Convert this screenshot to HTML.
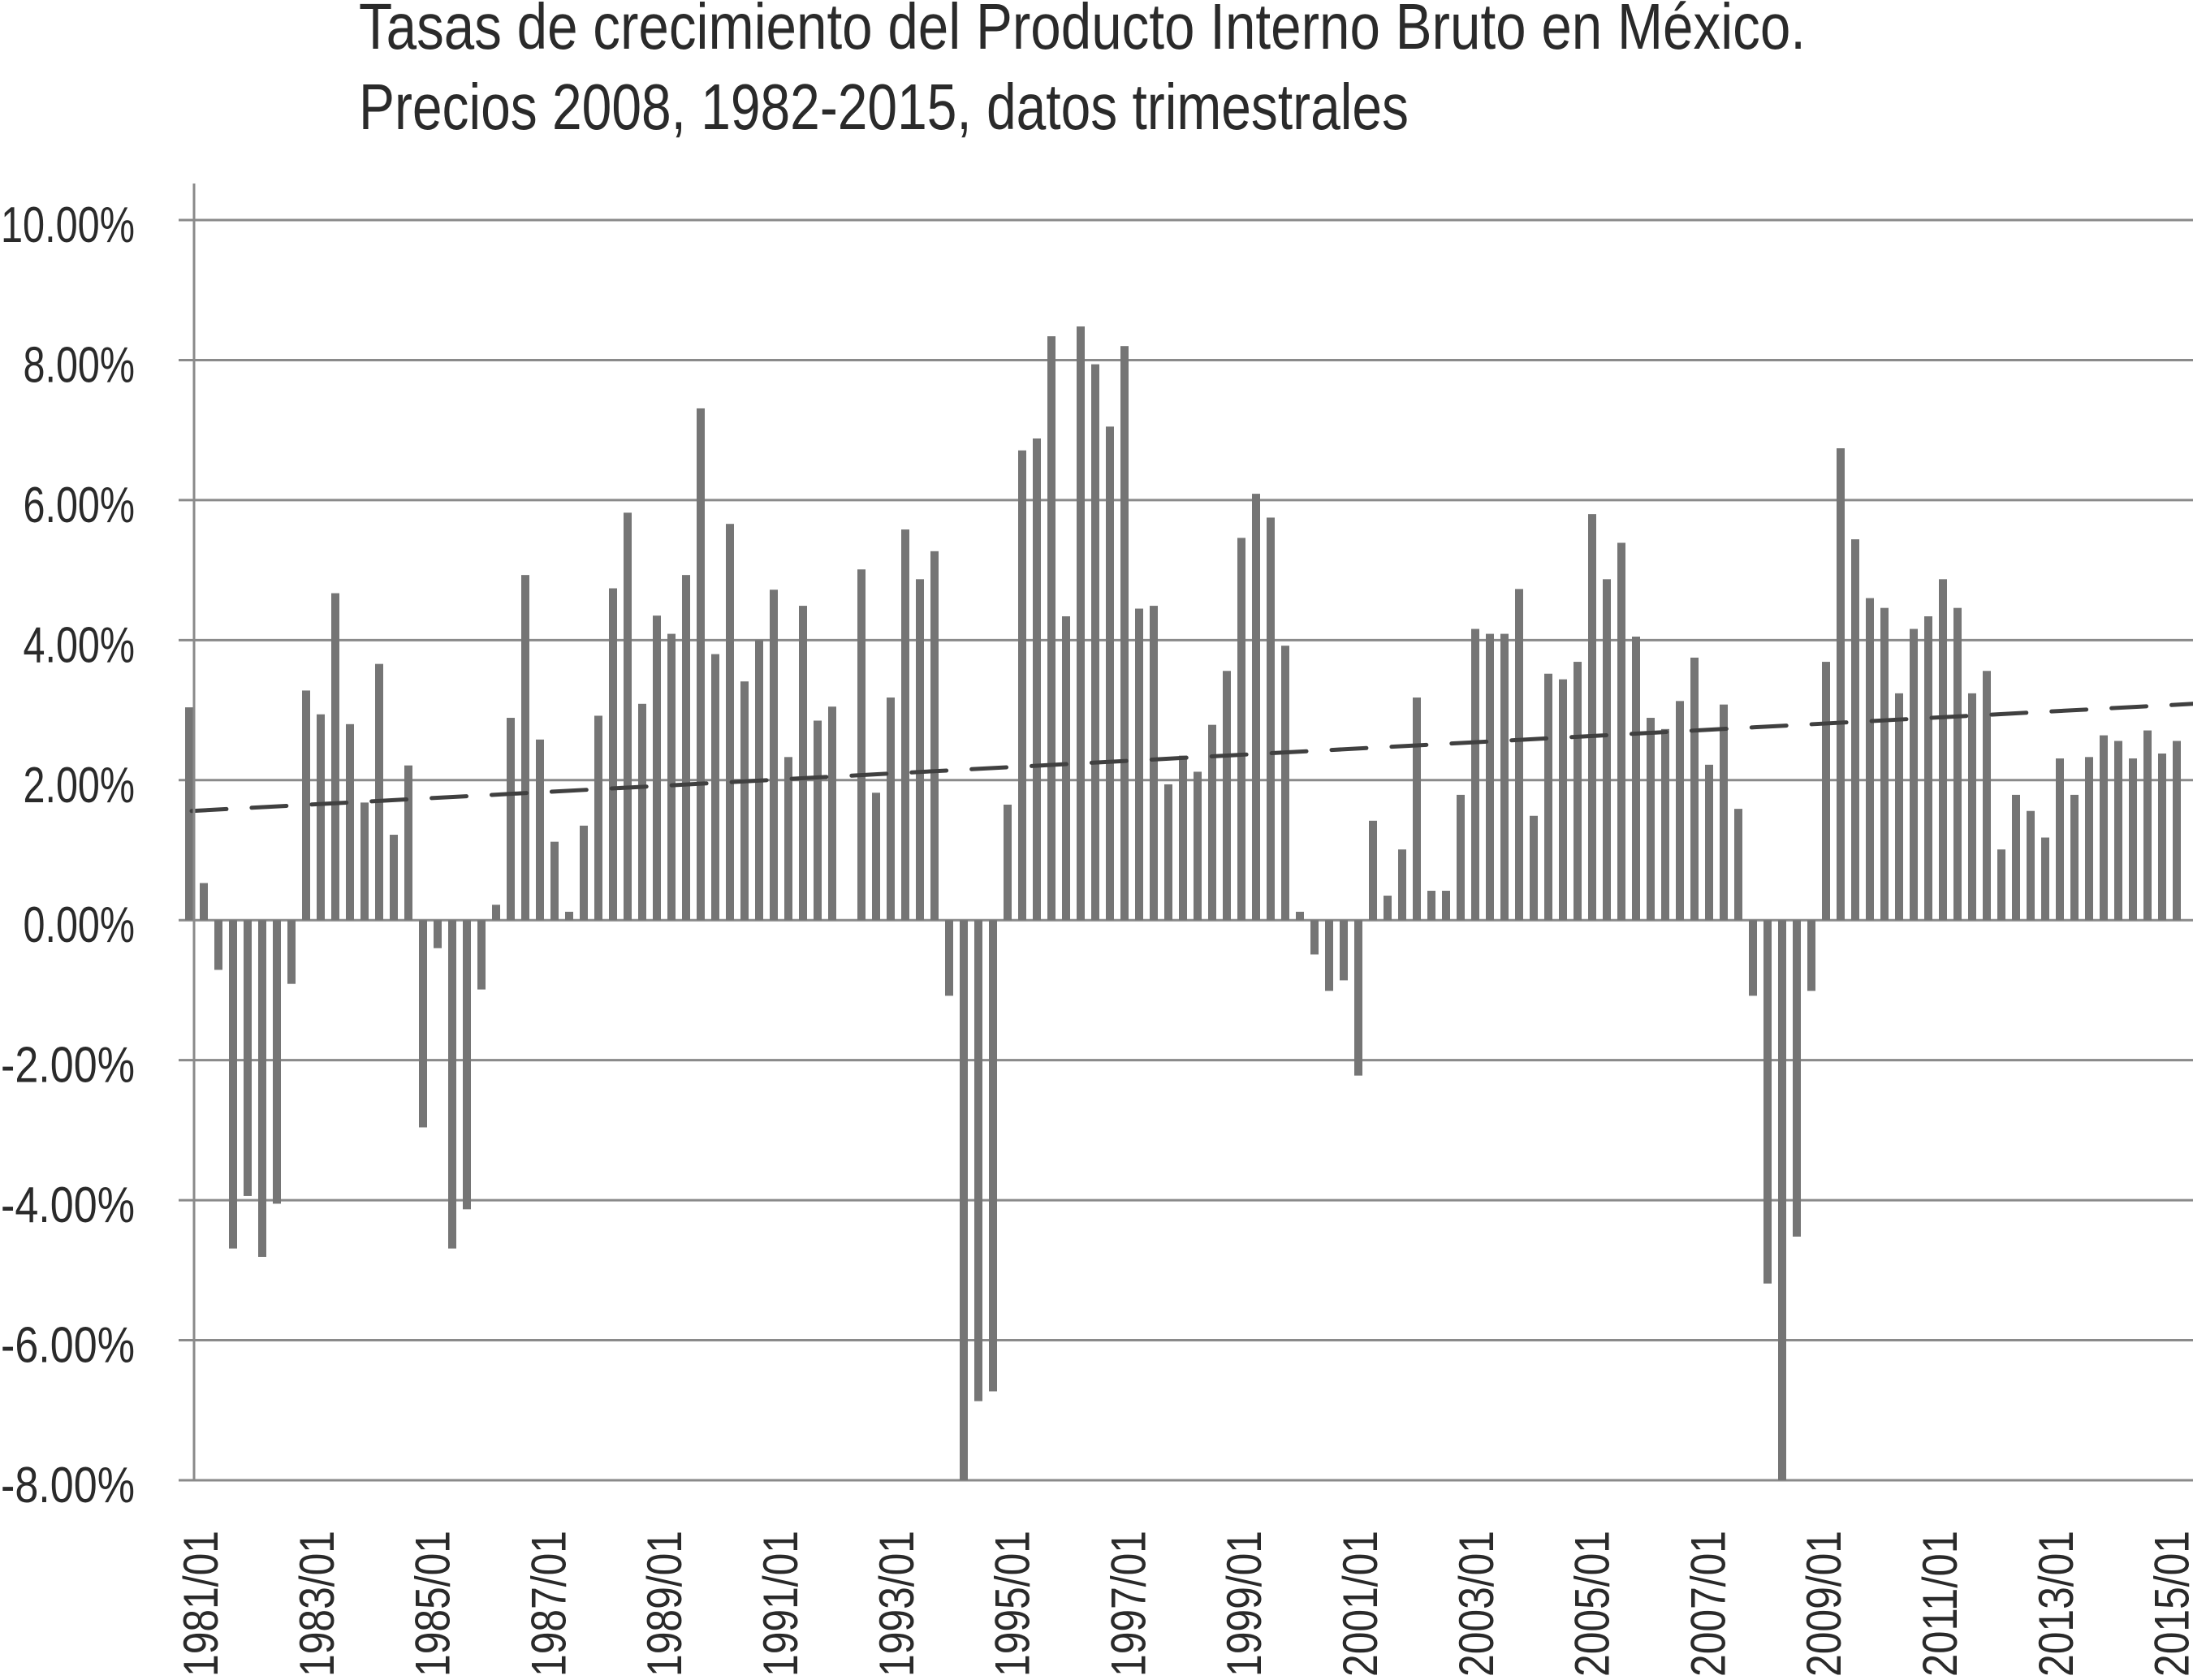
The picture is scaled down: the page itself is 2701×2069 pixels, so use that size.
<!DOCTYPE html>
<html><head><meta charset="utf-8">
<style>
html,body{margin:0;padding:0;background:#fff;}
svg{display:block;}
text{font-family:"Liberation Sans",sans-serif;fill:#2a2a2a;}
</style></head>
<body>
<svg id="chart" width="2701" height="2069" viewBox="0 0 2701 2069" xmlns="http://www.w3.org/2000/svg">
<g>
<text x="442" y="60" font-size="80" textLength="1782" lengthAdjust="spacingAndGlyphs">Tasas de crecimiento del Producto Interno Bruto en México.</text>
<text x="442" y="159" font-size="80" textLength="1293" lengthAdjust="spacingAndGlyphs">Precios 2008, 1982-2015, datos trimestrales</text>
</g>
<g id="grid"></g>
<g id="ylabels"></g>
<g id="bars"></g>
<g id="trend"></g>
<line x1="239" y1="226" x2="239" y2="1824" stroke="#8a8a8a" stroke-width="3"/>
<g id="xlabels"></g>
</svg>
<script>
const growthValues = [3.04,0.53,-0.71,-4.69,-3.94,-4.81,-4.05,-0.91,3.28,2.94,4.67,2.8,1.68,3.66,1.22,2.21,-2.96,-0.4,-4.69,-4.13,-0.99,0.22,2.89,4.93,2.58,1.12,0.12,1.35,2.92,4.74,5.82,3.09,4.35,4.09,4.93,7.31,3.8,5.66,3.41,4.0,4.72,2.33,4.49,2.85,3.05,0,5.01,1.82,3.18,5.58,4.87,5.27,-1.08,-8.0,-6.87,-6.73,1.65,6.71,6.88,8.34,4.34,8.48,7.94,7.05,8.2,4.45,4.49,1.94,2.35,2.12,2.79,3.56,5.46,6.09,5.75,3.92,0.12,-0.49,-1.01,-0.86,-2.22,1.42,0.35,1.01,3.18,0.42,0.42,1.79,4.16,4.09,4.09,4.73,1.49,3.52,3.44,3.69,5.8,4.87,5.39,4.05,2.89,2.73,3.13,3.75,2.22,3.08,1.59,-1.08,-5.19,-8.0,-4.52,-1.01,3.69,6.74,5.44,4.6,4.46,3.24,4.16,4.34,4.87,4.46,3.24,3.56,1.01,1.79,1.56,1.18,2.31,1.79,2.33,2.64,2.56,2.31,2.71,2.38,2.56];
const yTicks = [10,8,6,4,2,0,-2,-4,-6,-8];
const yTickLabels = ["10.00%","8.00%","6.00%","4.00%","2.00%","0.00%","-2.00%","-4.00%","-6.00%","-8.00%"];
const xTickLabels = ["1981/01","1983/01","1985/01","1987/01","1989/01","1991/01","1993/01","1995/01","1997/01","1999/01","2001/01","2003/01","2005/01","2007/01","2009/01","2011/01","2013/01","2015/01"];
const trendValues = [1.56,3.09];

const NS="http://www.w3.org/2000/svg";
const Y10=271, YM8=1823;
function yScale(v){return Y10+(10-v)*(YM8-Y10)/18;}
function xBar(i){return 233+i*(2681-233)/(growthValues.length-1);}
function xLabel(k){return 247+k*8*17.85;}
function mk(tag,attrs,parent){const e=document.createElementNS(NS,tag);for(const k in attrs)e.setAttribute(k,attrs[k]);parent.appendChild(e);return e;}

const grid=document.getElementById('grid'), yl=document.getElementById('ylabels');
yTicks.forEach((t,i)=>{
  const y=yScale(t);
  const ln=mk('line',{x1:220,x2:2701,y1:y,y2:y,stroke:'#8a8a8a','stroke-width':3},grid);
  
  
  const tx=mk('text',{x:166,y:y+27,'font-size':62,'text-anchor':'end'},yl);
  
  
  tx.textContent=yTickLabels[i];
  tx.setAttribute('textLength',yTickLabels[i].length*27.5);
  tx.setAttribute('lengthAdjust','spacingAndGlyphs');
});

const bars=document.getElementById('bars');
const y0=yScale(0);
growthValues.forEach((v,i)=>{
  const y=yScale(v);
  const r=mk('rect',{x:xBar(i)-5,y:Math.min(y,y0),width:10,height:Math.abs(y-y0),fill:'#757575'},bars);
  
  
});

const trend=document.getElementById('trend');
const tl=mk('line',{x1:236,y1:yScale(trendValues[0]),x2:2701,y2:yScale(trendValues[1]),stroke:'#404040','stroke-width':5,'stroke-dasharray':'43 31','stroke-linecap':'round'},trend);



const xl=document.getElementById('xlabels');
xTickLabels.forEach((s,k)=>{
  const cx=xLabel(k)+21;
  const t=mk('text',{x:0,y:0,'font-size':60,'text-anchor':'end',transform:`translate(${cx},1885) rotate(-90)`,textLength:180,lengthAdjust:'spacingAndGlyphs'},xl);
  
  
  t.textContent=s;
});
</script>
</body></html>
